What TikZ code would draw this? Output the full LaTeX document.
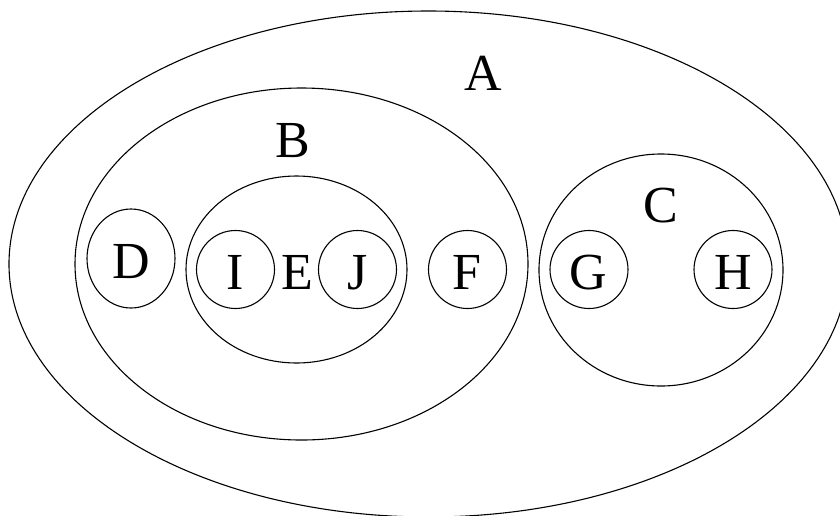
\documentclass[tikz,border=0pt]{standalone}
\usepackage{fontspec}
\setmainfont{Liberation Serif}
\usetikzlibrary{shapes.geometric}

\begin{document}
\begin{tikzpicture}[x=1pt, y=-1pt,
    set/.style={draw, ellipse, line width=1.1pt, inner sep=0pt},
    elem/.style={set, minimum width=78pt, minimum height=78pt},
    lbl/.style={font=\fontsize{52}{60}\selectfont, inner sep=0pt, anchor=base}]
    \useasboundingbox (0,0) rectangle (840,515);
    \clip (0,0) rectangle (840,515);

    % Sets
    \node[set, minimum width=839pt, minimum height=506pt] (A) at (428.5,264) {};
    \node[set, minimum width=453pt, minimum height=352pt] (B) at (301.5,264) {};
    \node[set, minimum width=221pt, minimum height=187pt] (E) at (296.5,269.5) {};
    \node[set, minimum width=244pt, minimum height=232pt] (C) at (661,270) {};

    % Elements
    \node[set, minimum width=88pt, minimum height=99pt] (D) at (131,258.5) {};
    \node[elem] (I) at (235.5,269.5) {};
    \node[elem] (J) at (357.5,269.5) {};
    \node[elem] (F) at (467.5,269.5) {};
    \node[elem] (G) at (589,269.5) {};
    \node[elem] (H) at (733,269.5) {};

    % Labels
    \node[lbl] (labA) at (483.5,90) {A};
    \node[lbl] (labB) at (293,157) {B};
    \node[lbl] (labC) at (661,222) {C};
    \node[lbl] (labD) at (131,278) {D};
    \node[lbl] (labE) at (297,289) {E};
    \node[lbl] (labI) at (235.5,289) {I};
    \node[lbl] (labJ) at (357.5,289) {J};
    \node[lbl] (labF) at (466.5,289) {F};
    \node[lbl] (labG) at (588.5,289) {G};
    \node[lbl] (labH) at (733,289) {H};
\end{tikzpicture}
\end{document}
